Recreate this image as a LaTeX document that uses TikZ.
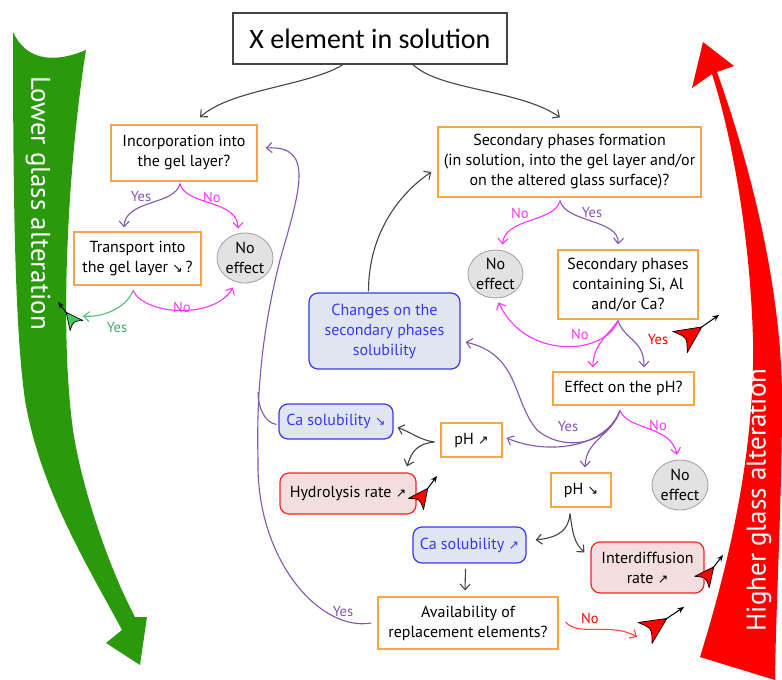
\documentclass[tikz,border=0pt]{standalone}
\usepackage{fontspec}
\setmainfont{PT Sans}
\newfontfamily\titlefont{Carlito}
\newfontfamily\symfont{DejaVu Sans}
\usetikzlibrary{arrows.meta,calc,shapes.geometric}

\definecolor{oborder}{HTML}{F7A545}
\definecolor{bbord}{HTML}{3838F0}
\definecolor{bfill}{HTML}{E0E5F2}
\definecolor{rbord}{HTML}{F42424}
\definecolor{rfill}{HTML}{F2DEDE}
\definecolor{purp}{HTML}{8155B0}
\definecolor{mag}{HTML}{FF33FF}
\definecolor{grn}{HTML}{2A990C}
\definecolor{lgrn}{HTML}{55BB77}
\definecolor{lgrnt}{HTML}{3FA86A}
\definecolor{redc}{HTML}{FF0000}
\definecolor{dgray}{HTML}{444444}
\definecolor{negray}{HTML}{E2E2E2}

\newcommand\uparr{{\symfont\fontsize{12.5}{12}\selectfont ↗}}
\newcommand\dnarr{{\symfont\fontsize{12.5}{12}\selectfont ↘}}

\newcommand\trendicon[3]{%
  \filldraw[fill=#3, draw=black, line width=0.7pt, line join=round]
    ($#1!0.27!90:#2$) -- ($#1!0.56!#2$) -- ($#1!0.27!-90:#2$)
    .. controls ($#1!0.18!#2$) .. ($#1!0.27!90:#2$) -- cycle;
  \draw[line width=1pt, -{Stealth[length=6.5pt,width=5.5pt]}] ($#1!0.5!#2$) -- #2;
}

\tikzset{
  txt/.style={font=\fontsize{16}{20}\selectfont, align=center, inner sep=0pt},
  obox/.style={txt, draw=oborder, line width=1.2pt, fill=white},
  bbox/.style={txt, draw=bbord, fill=bfill, rounded corners=9pt, line width=1.2pt, text=bbord},
  rbox/.style={txt, draw=rbord, fill=rfill, rounded corners=9pt, line width=1.2pt},
  neff/.style={txt, ellipse, draw=gray!75, fill=negray, line width=0.8pt},
  tip/.style={-{Straight Barb[length=5.5pt,width=10pt]}},
  parr/.style={draw=purp, line width=1.1pt, tip},
  marr/.style={draw=mag, line width=1.1pt, tip},
  garr/.style={draw=dgray, line width=1.1pt, tip},
  lgarr/.style={draw=lgrn, line width=1.1pt, tip},
  rarr/.style={draw=red!75, line width=1.1pt, tip},
  lbl/.style={font=\fontsize{14.5}{14.5}\selectfont, inner sep=0pt},
}

\begin{document}
\begin{tikzpicture}[x=1pt,y=-1pt]
\useasboundingbox (0,0) rectangle (782,680);

% big side arrows
\fill[grn] (13,32) .. controls (25,58) and (50,65) .. (86,50)
  .. controls (70,150) and (58,320) .. (73,430)
  .. controls (82,490) and (110,570) .. (135,617)
  -- (147,617) -- (140,665) -- (106,643) -- (122,630)
  .. controls (90,570) and (40,490) .. (25,400)
  .. controls (15,330) and (13,200) .. (13,32) -- cycle;
\node[rotate=-90, text=white, font=\fontsize{27}{27}\selectfont, inner sep=0pt] (lowtxt) at (38,203) {Lower glass alteration};

\fill[redc] (703,42) -- (734,66) -- (717,72)
  .. controls (745,150) and (782,280) .. (782,400)
  .. controls (782,500) and (776,600) .. (775,680)
  -- (700,657)
  .. controls (730,560) and (755,450) .. (753,340)
  .. controls (750,230) and (730,130) .. (712,74)
  -- (692,88) -- cycle;
\node[rotate=90, text=white, font=\fontsize{27}{27}\selectfont, inner sep=0pt] (hightxt) at (759,500) {Higher glass alteration};

% nodes
\node[draw=dgray, line width=1.2pt, fill=white, minimum width=274pt, minimum height=51pt, inner sep=0pt, font=\titlefont\fontsize{28}{28}\selectfont] (title) at (370,38.5) {X element in solution};

\node[obox, minimum width=146pt, minimum height=56pt] (inc) at (184,153) {Incorporation into\\the gel layer?};
\node[obox, minimum width=127pt, minimum height=53pt] (trans) at (137.5,258.5) {Transport into\\the gel layer \dnarr\,?};
\node[neff, minimum width=56pt, minimum height=50pt] (ne1) at (245,258) {No\\effect};

\node[obox, minimum width=263pt, minimum height=70pt] (sec) at (569.5,162) {Secondary phases formation\\(in solution, into the gel layer and/or\\on the altered glass surface)?};
\node[neff, minimum width=55pt, minimum height=48pt] (ne2) at (495.5,274) {No\\effect};
\node[obox, minimum width=140pt, minimum height=69pt] (secsi) at (628,284.5) {Secondary phases\\containing Si, Al\\and/or Ca?};
\node[bbox, minimum width=151pt, minimum height=76pt] (chg) at (384.5,331) {Changes on the\\secondary phases\\solubility};
\node[obox, minimum width=141pt, minimum height=33pt] (eff) at (623.5,388.5) {Effect on the pH?};
\node[bbox, minimum width=114pt, minimum height=35pt] (cad) at (336,421.5) {Ca solubility \dnarr};
\node[obox, minimum width=61pt, minimum height=34pt] (phu) at (471.5,440) {pH \uparr};
\node[rbox, minimum width=136pt, minimum height=41pt] (hyd) at (348,493.5) {Hydrolysis rate \uparr};
\node[obox, minimum width=60pt, minimum height=34pt] (phd) at (581,490) {pH \dnarr};
\node[neff, minimum width=56pt, minimum height=50pt] (ne3) at (680,485) {No\\effect};
\node[bbox, minimum width=113pt, minimum height=36pt] (cau) at (469.5,545) {Ca solubility \uparr};
\node[rbox, minimum width=113pt, minimum height=51pt] (intd) at (647.5,567.5) {Interdiffusion\\rate \uparr};
\node[obox, minimum width=180pt, minimum height=52pt] (avail) at (468,623) {Availability of\\replacement elements?};

% free ends near icons
\coordinate (gend) at (83,316);
\coordinate (rend) at (637,637);
\coordinate (merge) at (258,392);

% connectors from title
\draw[garr] ($(title.south)+(-27,0)$) .. controls +(-33,21) and +(30,-28) .. ($(inc.north)+(16,-7)$);
\draw[garr] ($(title.south)+(43,0)$) .. controls +(27,26) and +(-40,-28) .. ($(sec.north)+(-9.5,-9)$);

% incorporation forks
\draw[parr] ($(inc.south)+(-4,2)$) .. controls +(-5,22) and +(1,-28) .. ($(trans.north)+(-13.5,-4)$);
\draw[marr] ($(inc.south)+(-4,2)$) .. controls +(5,22) and +(0,-29) .. ($(ne1.north)+(-7,-4)$);
\node[lbl, text=purp] (l1) at (141,197) {Yes};
\node[lbl, text=mag] (l2) at (212,197) {No};

% transport forks
\draw[lgarr] ($(trans.south)+(-4.5,5)$) .. controls +(-5,15) and +(22,2) .. (gend);
\draw[marr] ($(trans.south)+(-4.5,5)$) .. controls +(12,25) and +(-18,32) .. ($(ne1.south)+(-12,4)$);
\node[lbl, text=lgrnt] (l3) at (117,328) {Yes};
\node[lbl, text=mag] (l4) at (182,307) {No};

% big purple loop
\draw[parr] ($(avail.west)+(-6,0)$) .. controls (320,632) and (256,560) .. (258,460)
  .. controls (256,380) and (265,320) .. (280,260)
  .. controls (300,190) and (315,145) .. ($(inc.east)+(8,-5)$);
\draw[draw=purp, line width=1.1pt] ($(cad.west)+(-2,3)$) .. controls +(-12,-2) and +(0,15) .. (merge);
\node[lbl, text=purp] (l5) at (343,612) {Yes};

% changes -> secondary formation
\draw[garr] ($(chg.north)+(-16,-1)$) .. controls +(0,-60) and +(-30,20) .. ($(sec.west)+(-6,10)$);

% secondary formation forks
\draw[parr] ($(sec.south)+(-9.5,3)$) .. controls +(5,22) and +(2,-25) .. ($(secsi.north)+(-10,-5)$);
\draw[marr] ($(sec.south)+(-9.5,3)$) .. controls +(-5,22) and +(2,-27) .. ($(ne2.north)+(7,-5)$);
\node[lbl, text=mag] (l6) at (520,213) {No};
\node[lbl, text=purp] (l7) at (592,213) {Yes};

% secondary Si/Al forks
\draw[marr] ($(secsi.south)+(-10,1)$) .. controls +(-13,35) and +(27,58) .. ($(ne2.south)+(3,4)$);
\draw[marr] ($(secsi.south)+(-10,1)$) .. controls +(-10,15) and +(0,-23) .. ($(eff.north)+(-30.5,-4)$);
\draw[parr] ($(secsi.south)+(-10,1)$) .. controls +(7,20) and +(0,-28) .. ($(eff.north)+(20.5,-4)$);
\node[lbl, text=mag] (l8) at (580,334) {No};
\node[lbl, text=red] (l9) at (658,340) {Yes};

% effect on pH forks
\draw[parr] ($(eff.south)+(-3.5,5)$) .. controls +(-15,38) and +(40,17) .. ($(phu.east)+(4,-2)$);
\draw[parr] ($(eff.south)+(-3.5,5)$) .. controls +(-8,25) and +(1,-28) .. ($(phd.north)+(4,-5)$);
\draw[parr] ($(eff.south)+(-3.5,5)$) .. controls +(-15,38) and +(23,20) .. (537,430)
  .. controls (512,400) and (520,355) .. ($(chg.east)+(5,11)$);
\draw[marr] ($(eff.south)+(-3.5,5)$) .. controls +(8,20) and +(-7,-30) .. ($(ne3.north)+(-3,-5)$);
\node[lbl, text=purp] (l10) at (568,427) {Yes};
\node[lbl, text=mag] (l11) at (658,425) {No};

% pH up forks
\draw[garr] ($(phu.west)+(-6,2)$) .. controls +(-15,-2) and +(12,4) .. ($(cad.east)+(4,6)$);
\draw[garr] ($(phu.west)+(-6,2)$) .. controls +(-18,2) and +(5,-15) .. ($(hyd.north)+(59,-6)$);

% pH down forks
\draw[garr] ($(phd.south)+(-11,6)$) .. controls +(-2,22) and +(15,-2) .. ($(cau.east)+(9,-5)$);
\draw[garr] ($(phd.south)+(-11,6)$) .. controls +(3,22) and +(-10,-10) .. ($(intd.west)+(-6,-15)$);

% Ca up -> availability
\draw[garr] ($(cau.south)+(-4,5)$) -- ($(avail.north)+(-3,-6)$);

% availability No
\draw[rarr] ($(avail.east)+(7,-1)$) .. controls +(12,15) and +(-25,-15) .. (rend);
\node[lbl, text=red] (l12) at (590,618) {No};

% trend icons
\trendicon{(680,342)}{(719,315)}{redc}
\trendicon{(416,504)}{(437,476)}{redc}
\trendicon{(702,582)}{(723,555)}{redc}
\trendicon{(645,633)}{(684,607)}{redc}
\trendicon{(76.5,325.5)}{(58,302)}{lgrn!80!green}
\end{tikzpicture}
\end{document}
